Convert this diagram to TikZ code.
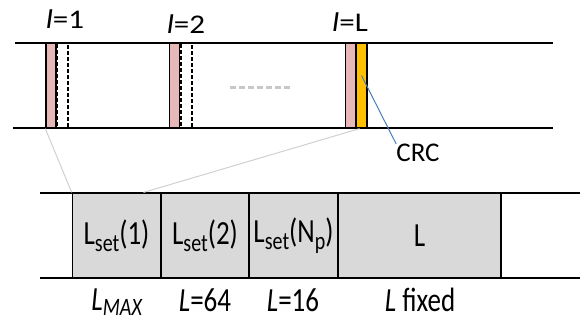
\documentclass[tikz,border=0pt]{standalone}
\usepackage{graphicx}
\usepackage{fontspec}
\setmainfont{Carlito}
\definecolor{pinkc}{HTML}{E6B9B8}
\definecolor{orangec}{HTML}{FFC000}
\definecolor{boxgray}{HTML}{D9D9D9}
\definecolor{zoomgray}{HTML}{D0D0D0}
\definecolor{dotgray}{HTML}{C8C8C8}
\definecolor{crcblue}{HTML}{4A7EBB}
\newcommand{\tall}[1]{\scalebox{1}[1.25]{#1}}
\newcommand{\wide}[1]{\scalebox{1.15}[1]{#1}}
\newcommand{\mysub}[1]{\raisebox{-0.22em}{\fontsize{20}{22}\selectfont #1}}
\begin{document}
\begin{tikzpicture}[x=1pt,y=-1pt,
  txt/.style={font=\fontsize{27}{31}\selectfont, inner sep=0pt},
  slot/.style={draw=black, line width=1.3pt, minimum width=#1, minimum height=85pt, inner sep=0pt},
  pinkslot/.style={slot=10pt, fill=pinkc},
  dashslot/.style={slot=11pt, dash pattern=on 4pt off 2pt, line width=2pt},
  crcslot/.style={slot=11pt, fill=orangec},
  field/.style={draw=black, line width=1.2pt, fill=boxgray, minimum height=85pt, minimum width=#1, inner sep=0pt, font=\fontsize{27}{31}\selectfont},
  rail/.style={line width=1.5pt},
  zoomline/.style={draw=zoomgray, line width=1pt}]
\useasboundingbox (0,0) rectangle (582,322);
% top rails
\draw[rail] (15,43) -- (553,43);
\draw[rail] (13,128) -- (553,128);
% slots
\node[pinkslot] (p1) at (51,85.5) {};
\node[dashslot] (d1) at (62.5,85.5) {};
\node[pinkslot] (p2) at (174.5,85.5) {};
\node[dashslot] (d2) at (186,85.5) {};
\node[pinkslot] (pL) at (350.5,85.5) {};
\node[crcslot] (cL) at (361.5,85.5) {};
% dots
\draw[draw=dotgray, line width=3pt, dash pattern=on 6pt off 3pt] (230,87) -- (292,87);
% labels
\node[txt] (l1) at (65,19) {\wide{\textit{l}=1}};
\node[txt] (l2) at (186,24) {\wide{\textit{l}=2}};
\node[txt] (lL) at (350,22) {\wide{\textit{l}=L}};
\node[txt] (crc) at (418,153) {CRC};
\draw[draw=crcblue, line width=1pt] ([yshift=10pt]cL.center) -- (crc.north west);
% bottom rails
\draw[rail] (40,193) -- (580,193);
\draw[rail] (40,278) -- (580,278);
% fields
\node[field=88.5pt] (b1) at (116.5,235.5) {\tall{L\mysub{set}(1)}};
\node[field=88pt] (b2) at (205,235.5) {\tall{L\mysub{set}(2)}};
\node[field=89pt] (b3) at (293.5,235.5) {\tall{L\mysub{set}(N\mysub{p})}};
\node[field=163pt] (b4) at (419.5,235.5) {\tall{L}};
% zoom lines
\draw[zoomline] (p1.south west) -- (b1.north west);
\draw[zoomline] ([xshift=-2pt]cL.south) -- ([xshift=27pt]b1.north);
% under labels
\node[txt] (u1) at (117,302) {\tall{\textit{L}\raisebox{-0.15em}{\fontsize{20}{22}\selectfont\textit{MAX}}}};
\node[txt] (u2) at (205,300) {\tall{\textit{L}=64}};
\node[txt] (u3) at (293,300) {\tall{\textit{L}=16}};
\node[txt] (u4) at (420,300) {\tall{\textit{L} fixed}};
\end{tikzpicture}
\end{document}
